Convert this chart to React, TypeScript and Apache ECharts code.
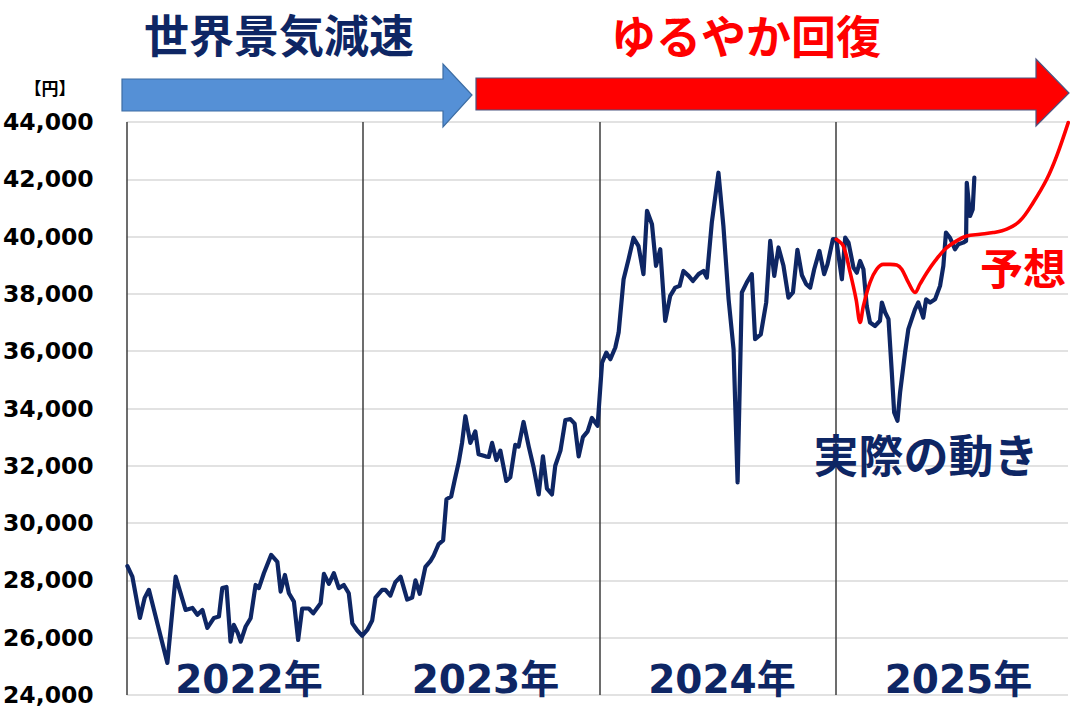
import React, { useEffect, useRef } from "react";
import * as echarts from "echarts";

// ---- data ----
const yMin = 24000;
const yMax = 44000;
const yStep = 2000;
const xStart = 2022;
const xEnd = 2025.98;
const yearStarts = [2022, 2023, 2024, 2025];
const yearLabels = ["2022年", "2023年", "2024年", "2025年"];

// actual price (decimal year, yen)
const actualDates = [
  2022.003, 2022.024, 2022.056, 2022.076, 2022.094, 2022.172, 2022.207, 2022.249, 2022.278, 2022.299,
  2022.32, 2022.341, 2022.369, 2022.39, 2022.404, 2022.422, 2022.439, 2022.453, 2022.47, 2022.482,
  2022.503, 2022.524, 2022.545, 2022.559, 2022.58, 2022.611, 2022.637, 2022.651, 2022.669, 2022.686,
  2022.707, 2022.725, 2022.742, 2022.77, 2022.789, 2022.82, 2022.834, 2022.855, 2022.876, 2022.897,
  2022.918, 2022.939, 2022.954, 2022.975, 2022.996,
  2023.017, 2023.038, 2023.052, 2023.08, 2023.094, 2023.115, 2023.136, 2023.158, 2023.186, 2023.207,
  2023.221, 2023.239, 2023.263, 2023.284, 2023.298, 2023.319, 2023.338, 2023.352, 2023.372, 2023.386,
  2023.404, 2023.418, 2023.432, 2023.453, 2023.474, 2023.488, 2023.517, 2023.531, 2023.545, 2023.563,
  2023.58, 2023.605, 2023.622, 2023.643, 2023.657, 2023.678, 2023.7, 2023.721, 2023.742, 2023.76,
  2023.777, 2023.798, 2023.812, 2023.834, 2023.855, 2023.876, 2023.894, 2023.911, 2023.929, 2023.949,
  2023.967, 2023.991,
  2024.01, 2024.028, 2024.045, 2024.066, 2024.08, 2024.101, 2024.122, 2024.143, 2024.164, 2024.185,
  2024.2, 2024.221, 2024.238, 2024.256, 2024.277, 2024.298, 2024.319, 2024.338, 2024.354, 2024.376,
  2024.394, 2024.418, 2024.439, 2024.453, 2024.474, 2024.502, 2024.523, 2024.545, 2024.566, 2024.583,
  2024.601, 2024.622, 2024.643, 2024.657, 2024.681, 2024.704, 2024.721, 2024.738, 2024.756, 2024.777,
  2024.798, 2024.817, 2024.836, 2024.855, 2024.873, 2024.89, 2024.907, 2024.929, 2024.949, 2024.963,
  2024.986,
  2025.0, 2025.024, 2025.038, 2025.052, 2025.073, 2025.087, 2025.101, 2025.115, 2025.129, 2025.143,
  2025.164, 2025.185, 2025.193, 2025.207, 2025.221, 2025.235, 2025.245, 2025.259, 2025.27, 2025.291,
  2025.305, 2025.333, 2025.347, 2025.368, 2025.38, 2025.397, 2025.418, 2025.439, 2025.453, 2025.464,
  2025.481, 2025.502, 2025.516, 2025.537, 2025.549, 2025.552, 2025.566, 2025.577, 2025.584,
];
const actualValues = [
  28500, 28130, 26690, 27390, 27670, 25120, 28130, 26970, 27040, 26800,
  26970, 26340, 26690, 26740, 27730, 27770, 25860, 26450, 26160, 25860,
  26390, 26680, 27840, 27730, 28250, 28890, 28650, 27610, 28190, 27550,
  27260, 25920, 27020, 27020, 26850, 27200, 28230, 27880, 28250, 27730,
  27840, 27550, 26500, 26250, 26070,
  26270, 26600, 27400, 27670, 27670, 27470, 27940, 28130, 27330, 27400,
  28000, 27530, 28470, 28670, 28870, 29270, 29400, 30830, 30930, 31470,
  32130, 32800, 33730, 32800, 33200, 32400, 32330, 32310, 32800, 32200,
  32530, 31470, 31600, 32730, 32670, 33530, 32670, 31930, 31000, 32330,
  31200, 31000, 32000, 32530, 33600, 33630, 33470, 32330, 33000, 33200,
  33670, 33400,
  35600, 35950, 35720, 36130, 36650, 38510, 39210, 39960, 39670, 38690,
  40900, 40430, 38980, 39560, 37060, 37930, 38220, 38280, 38800, 38630,
  38450, 38690, 38800, 38570, 40490, 42230, 40370, 37810, 36070, 31420,
  38050, 38400, 38690, 36420, 36590, 37700, 39850, 38630, 39620, 38980,
  37870, 38050, 39540, 38650, 38340, 38220, 38860, 39500, 38690, 39030,
  39910,
  39906, 38510, 39965, 39790, 38920, 38740, 39150, 38860, 37580, 37000,
  36880, 37060, 37700, 37350, 37120, 35260, 33860, 33570, 34560, 35950,
  36770, 37460, 37700, 37170, 37810, 37700, 37810, 38280, 38980, 40140,
  39960, 39560, 39730, 39790, 39850, 41880, 40720, 40950, 42060,
];

// forecast path
const forecastDates = [
  2025.0, 2025.03, 2025.059, 2025.084, 2025.101, 2025.115, 2025.143, 2025.171, 2025.199, 2025.228,
  2025.256, 2025.277, 2025.305, 2025.333, 2025.354, 2025.383, 2025.418, 2025.46, 2025.509, 2025.552,
  2025.608, 2025.664, 2025.721, 2025.777, 2025.833, 2025.89, 2025.932, 2025.981,
];
const forecastValues = [
  39906, 39670, 38740, 37810, 37000, 37580, 38400, 38860, 39030, 39030,
  39010, 38860, 38400, 38050, 38340, 38740, 39150, 39560, 39850, 40020,
  40080, 40140, 40260, 40550, 41190, 42000, 42810, 43980,
];

const NAVY = "#0e2664";
const RED = "#ff0000";

export default function App() {
  const ref = useRef<HTMLDivElement>(null);

  useEffect(() => {
    if (!ref.current) return;
    const chart = echarts.init(ref.current, undefined, { renderer: "svg" });

    const actual = actualDates.map((d, i) => [d, actualValues[i]]);
    const forecast = forecastDates.map((d, i) => [d, forecastValues[i]]);

    chart.setOption({
      animation: false,
      grid: { left: 126, right: 10, top: 122, bottom: 16 },
      xAxis: {
        type: "value",
        min: xStart,
        max: xEnd,
        show: false,
      },
      yAxis: {
        type: "value",
        min: yMin,
        max: yMax,
        interval: yStep,
        axisLine: { show: false },
        axisTick: { show: false },
        splitLine: { lineStyle: { color: "#d9d9d9", width: 1.5 } },
        axisLabel: {
          margin: 33,
          color: "#000",
          fontSize: 23.5,
          fontWeight: "bold",
          fontFamily: "DejaVu Sans",
          padding: [0, 0, 8, 0],
          formatter: (v: number) => v.toLocaleString("en-US"),
        },
      },
      series: [
        {
          type: "line",
          data: actual,
          showSymbol: false,
          lineStyle: { color: NAVY, width: 4.2, join: "round", cap: "round" },
          z: 3,
          markLine: {
            silent: true,
            symbol: "none",
            label: { show: false },
            lineStyle: { color: "#3c3c3c", width: 1.5, type: "solid" },
            data: yearStarts.map((y) => ({ xAxis: y })),
            z: 1,
          },
        },
        {
          type: "line",
          data: forecast,
          showSymbol: false,
          smooth: 0.35,
          lineStyle: { color: RED, width: 3.6, join: "round", cap: "round" },
          z: 4,
        },
      ],
    });

    const cjk = '"Noto Sans CJK JP", "Noto Sans CJK SC", sans-serif';
    const yearTexts = yearStarts.map((y, i) => {
      const p = chart.convertToPixel({ gridIndex: 0 }, [y + 0.5, yMin]) as number[];
      return {
        type: "text",
        x: p[0] + 4,
        y: p[1] - 16,
        z: 10,
        style: {
          text: yearLabels[i],
          fill: NAVY,
          font: `bold 39px "DejaVu Sans", ${cjk}`,
          align: "center",
          verticalAlign: "middle",
          textAlign: "center",
          textVerticalAlign: "middle",
        },
      };
    });

    const txt = (text: string, x: number, y: number, size: number, fill: string, family = cjk) => ({
      type: "text",
      x,
      y,
      z: 10,
      style: {
        text,
        fill,
        font: `bold ${size}px ${family}`,
        align: "center",
        verticalAlign: "middle",
        textAlign: "center",
        textVerticalAlign: "middle",
      },
    });

    chart.setOption({
      graphic: [
        {
          type: "polygon",
          z: 5,
          shape: {
            points: [
              [122, 79], [443, 79], [443, 64], [472, 95], [443, 127], [443, 111], [122, 111],
            ],
          },
          style: { fill: "#5590d6", stroke: "#3d6da3", lineWidth: 1.2 },
        },
        {
          type: "polygon",
          z: 5,
          shape: {
            points: [
              [476, 78], [1036, 78], [1036, 59], [1069, 93], [1036, 126], [1036, 110], [476, 110],
            ],
          },
          style: { fill: RED, stroke: "#4a5480", lineWidth: 1.2 },
        },
        txt("世界景気減速", 279, 33, 45, NAVY),
        txt("ゆるやか回復", 746, 34, 45, RED),
        txt("【円】", 50, 87, 17, "#000"),
        txt("予想", 1023, 266, 43, RED),
        txt("実際の動き", 926, 453, 45, NAVY),
        ...yearTexts,
      ],
    });

    return () => chart.dispose();
  }, []);

  return (
    <div
      ref={ref}
      style={{ position: "absolute", left: 0, top: 0, width: 1078, height: 711, background: "#fff" }}
    />
  );
}
